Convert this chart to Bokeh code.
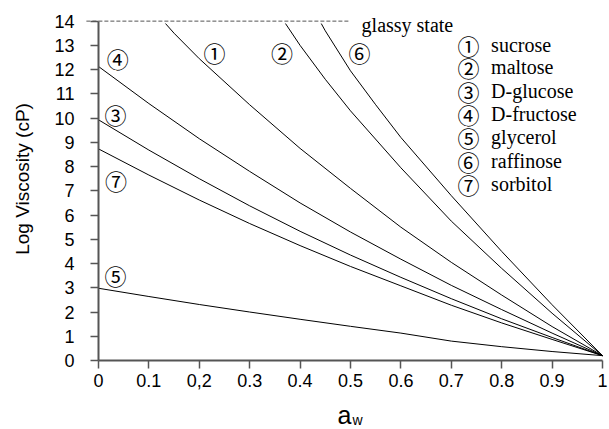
import math
from bokeh.plotting import figure
from bokeh.models import Range1d, Label, ColumnDataSource, FixedTicker
from bokeh.core.properties import value
from bokeh.embed import file_html
from bokeh.resources import INLINE

# ---- data ----
aw_grid = [0.0, 0.1, 0.2, 0.3, 0.4, 0.5, 0.6, 0.7, 0.8, 0.9, 1.0]

aw_sucrose = [0.133, 0.15, 0.2, 0.3, 0.4, 0.5, 0.6, 0.7, 0.8, 0.9, 1.0]
visc_sucrose = [13.9, 13.5, 12.45, 10.55, 8.75, 7.1, 5.5, 4.05, 2.7, 1.4, 0.2]

aw_maltose = [0.371, 0.4, 0.45, 0.5, 0.6, 0.7, 0.8, 0.9, 1.0]
visc_maltose = [13.9, 13.0, 11.6, 10.3, 7.95, 5.75, 3.8, 1.95, 0.2]

aw_raffinose = [0.442, 0.45, 0.5, 0.55, 0.6, 0.7, 0.8, 0.9, 1.0]
visc_raffinose = [13.9, 13.6, 11.95, 10.55, 9.2, 6.8, 4.5, 2.3, 0.2]

visc_fructose = [12.13, 10.6, 9.15, 7.8, 6.5, 5.3, 4.18, 3.1, 2.1, 1.13, 0.2]
visc_glucose = [9.93, 8.68, 7.5, 6.38, 5.33, 4.35, 3.43, 2.55, 1.72, 0.95, 0.2]
visc_sorbitol = [8.73, 7.65, 6.62, 5.65, 4.74, 3.88, 3.08, 2.28, 1.55, 0.87, 0.2]
visc_glycerol = [2.98, 2.64, 2.31, 2.0, 1.7, 1.41, 1.13, 0.80, 0.57, 0.37, 0.2]

glassy_level = 14
glassy_x = [-0.024, 0.496]
glassy_text = "glassy state"

curve_tags = ["①", "②", "⑥", "④", "③", "⑦", "⑤"]
curve_tag_x = [0.230, 0.364, 0.518, 0.038, 0.034, 0.035, 0.034]
curve_tag_y = [12.72, 12.72, 12.72, 12.49, 10.18, 7.43, 3.51]

legend_tags = ["①", "②", "③", "④", "⑤", "⑥", "⑦"]
legend_names = ["sucrose", "maltose", "D-glucose", "D-fructose", "glycerol", "raffinose", "sorbitol"]
legend_y = [13.0, 12.1, 11.11, 10.18, 9.21, 8.21, 7.29]
legend_tag_x = 0.734
legend_text_x = 0.779

x_ticks = [0.0, 0.1, 0.2, 0.3, 0.4, 0.5, 0.6, 0.7, 0.8, 0.9, 1.0]
x_tick_labels = ["0", "0.1", "0,2", "0.3", "0.4", "0.5", "0.6", "0.7", "0.8", "0.9", "1"]
y_ticks = list(range(0, 15))

x_title_main = "a"
x_title_sub = "w"
y_title = "Log Viscosity (cP)"

SERIF = "Liberation Serif"
SANS = "Liberation Sans"
CIRCLED = "Noto Sans CJK JP"

# frame covers the whole canvas; axes are pinned at x=0 and y=0
p = figure(width=609, height=429, output_backend="svg", toolbar_location=None,
           x_range=Range1d(-0.1944, 1.0139), y_range=Range1d(-2.8465, 14.851),
           min_border_left=0, min_border_right=0, min_border_top=0, min_border_bottom=0)
p.outline_line_color = None
p.grid.visible = False
p.background_fill_color = "white"
p.border_fill_color = "white"

# curves
for xs, ys in [(aw_sucrose, visc_sucrose), (aw_maltose, visc_maltose),
               (aw_raffinose, visc_raffinose), (aw_grid, visc_fructose),
               (aw_grid, visc_glucose), (aw_grid, visc_sorbitol),
               (aw_grid, visc_glycerol)]:
    p.line(xs, ys, line_color="black", line_width=1)

# glassy state line
p.line(glassy_x, [glassy_level] * len(glassy_x), line_color="#555555", line_width=1, line_dash="4 2")
p.add_layout(Label(x=glassy_x[-1] + 0.026, y=glassy_level - 0.18, text=glassy_text,
                   text_font=SERIF, text_font_size="20px", text_color="black",
                   text_align="left", text_baseline="alphabetic"))

# circled tags near curves
tag_src = ColumnDataSource(dict(x=curve_tag_x, y=curve_tag_y, t=curve_tags))
p.text(x="x", y="y", text="t", source=tag_src, text_font=value(CIRCLED),
       text_font_size="22px", text_align="center", text_baseline="middle", text_color="black")

# legend
leg_src = ColumnDataSource(dict(xt=[legend_tag_x] * len(legend_y), xn=[legend_text_x] * len(legend_y),
                                y=legend_y, t=legend_tags, n=legend_names))
p.text(x="xt", y="y", text="t", source=leg_src, text_font=value(CIRCLED),
       text_font_size="22px", text_align="center", text_baseline="middle", text_color="black")
p.text(x="xn", y="y", text="n", source=leg_src, text_font=value(SERIF),
       text_font_size="20px", text_align="left", text_baseline="middle", text_color="black")

# axes
for ax in (p.xaxis[0], p.yaxis[0]):
    ax.axis_line_color = "#555555"
    ax.axis_line_width = 2
    ax.major_tick_line_color = "#555555"
    ax.major_tick_line_width = 1.5
    ax.major_tick_out = 8
    ax.major_tick_in = 0
    ax.minor_tick_line_color = None
    ax.major_label_text_font = SANS
    ax.major_label_text_font_size = "18px"
    ax.major_label_text_color = "black"
    ax.fixed_location = 0

p.xaxis.ticker = FixedTicker(ticks=x_ticks)
p.xaxis.major_label_overrides = {t: l for t, l in zip(x_ticks, x_tick_labels)}
p.xaxis.bounds = (0, 1)
p.xaxis.major_label_standoff = 6

p.yaxis.ticker = FixedTicker(ticks=y_ticks)
p.yaxis.bounds = (0, 14)
p.yaxis.major_label_standoff = 16

# axis titles
p.add_layout(Label(x=-0.1508, y=7.49, text=y_title, text_font=SANS, text_font_size="19px",
                   angle=math.pi / 2, text_align="center", text_baseline="middle", text_color="black"))
p.add_layout(Label(x=0.488, y=-2.24, text=x_title_main, text_font=SANS, text_font_size="25px",
                   text_align="center", text_baseline="middle", text_color="black"))
p.add_layout(Label(x=0.504, y=-2.47, text=x_title_sub, text_font=SANS, text_font_size="14px",
                   text_align="left", text_baseline="middle", text_color="black"))

open("out.html", "w").write(file_html(p, INLINE))
